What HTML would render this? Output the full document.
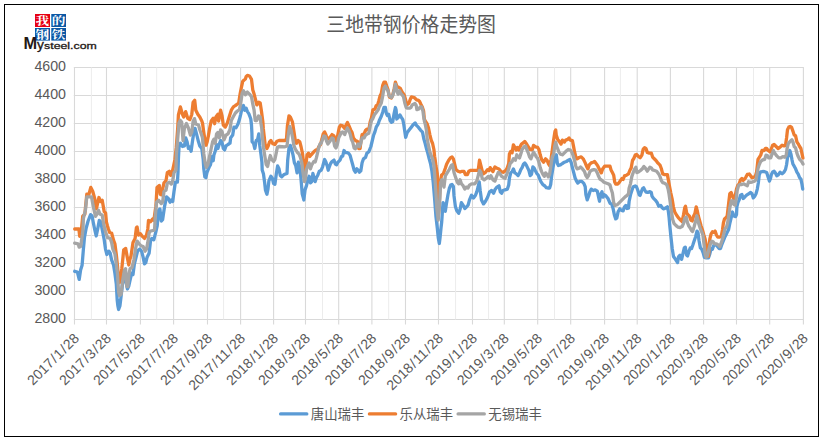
<!DOCTYPE html>
<html><head><meta charset="utf-8"><title>chart</title>
<style>html,body{margin:0;padding:0;background:#fff}body{width:823px;height:440px;overflow:hidden}
svg{display:block;font-family:"Liberation Sans",sans-serif}</style></head>
<body><svg width="823" height="440" viewBox="0 0 823 440">
<rect x="0" y="0" width="823" height="440" fill="#fff"/>
<line x1="73.8" y1="67.5" x2="803.9" y2="67.5" stroke="#d9d9d9" stroke-width="1"/>
<line x1="73.8" y1="95.5" x2="803.9" y2="95.5" stroke="#d9d9d9" stroke-width="1"/>
<line x1="73.8" y1="123.5" x2="803.9" y2="123.5" stroke="#d9d9d9" stroke-width="1"/>
<line x1="73.8" y1="151.5" x2="803.9" y2="151.5" stroke="#d9d9d9" stroke-width="1"/>
<line x1="73.8" y1="179.5" x2="803.9" y2="179.5" stroke="#d9d9d9" stroke-width="1"/>
<line x1="73.8" y1="207.5" x2="803.9" y2="207.5" stroke="#d9d9d9" stroke-width="1"/>
<line x1="73.8" y1="235.5" x2="803.9" y2="235.5" stroke="#d9d9d9" stroke-width="1"/>
<line x1="73.8" y1="263.5" x2="803.9" y2="263.5" stroke="#d9d9d9" stroke-width="1"/>
<line x1="73.8" y1="291.5" x2="803.9" y2="291.5" stroke="#d9d9d9" stroke-width="1"/>
<line x1="73.8" y1="319.5" x2="803.9" y2="319.5" stroke="#d9d9d9" stroke-width="1"/>
<line x1="91.4" y1="67.5" x2="91.4" y2="319.5" stroke="#ececec" stroke-width="1"/>
<line x1="156.7" y1="67.5" x2="156.7" y2="319.5" stroke="#ececec" stroke-width="1"/>
<line x1="223.6" y1="67.5" x2="223.6" y2="319.5" stroke="#ececec" stroke-width="1"/>
<line x1="322.5" y1="67.5" x2="322.5" y2="319.5" stroke="#ececec" stroke-width="1"/>
<line x1="388.7" y1="67.5" x2="388.7" y2="319.5" stroke="#ececec" stroke-width="1"/>
<line x1="455.6" y1="67.5" x2="455.6" y2="319.5" stroke="#ececec" stroke-width="1"/>
<line x1="488.6" y1="67.5" x2="488.6" y2="319.5" stroke="#ececec" stroke-width="1"/>
<line x1="554.5" y1="67.5" x2="554.5" y2="319.5" stroke="#ececec" stroke-width="1"/>
<line x1="620.4" y1="67.5" x2="620.4" y2="319.5" stroke="#ececec" stroke-width="1"/>
<line x1="753.5" y1="67.5" x2="753.5" y2="319.5" stroke="#ececec" stroke-width="1"/>
<line x1="74.5" y1="67.5" x2="74.5" y2="324.5" stroke="#d9d9d9" stroke-width="1.1"/>
<line x1="106.5" y1="67.5" x2="106.5" y2="324.5" stroke="#d9d9d9" stroke-width="1.1"/>
<line x1="140.4" y1="67.5" x2="140.4" y2="324.5" stroke="#d9d9d9" stroke-width="1.1"/>
<line x1="173.6" y1="67.5" x2="173.6" y2="324.5" stroke="#d9d9d9" stroke-width="1.1"/>
<line x1="207.5" y1="67.5" x2="207.5" y2="324.5" stroke="#d9d9d9" stroke-width="1.1"/>
<line x1="240.6" y1="67.5" x2="240.6" y2="324.5" stroke="#d9d9d9" stroke-width="1.1"/>
<line x1="273.6" y1="67.5" x2="273.6" y2="324.5" stroke="#d9d9d9" stroke-width="1.1"/>
<line x1="305.5" y1="67.5" x2="305.5" y2="324.5" stroke="#d9d9d9" stroke-width="1.1"/>
<line x1="338.7" y1="67.5" x2="338.7" y2="324.5" stroke="#d9d9d9" stroke-width="1.1"/>
<line x1="371.9" y1="67.5" x2="371.9" y2="324.5" stroke="#d9d9d9" stroke-width="1.1"/>
<line x1="405.5" y1="67.5" x2="405.5" y2="324.5" stroke="#d9d9d9" stroke-width="1.1"/>
<line x1="438.5" y1="67.5" x2="438.5" y2="324.5" stroke="#d9d9d9" stroke-width="1.1"/>
<line x1="472.5" y1="67.5" x2="472.5" y2="324.5" stroke="#d9d9d9" stroke-width="1.1"/>
<line x1="504.3" y1="67.5" x2="504.3" y2="324.5" stroke="#d9d9d9" stroke-width="1.1"/>
<line x1="537.7" y1="67.5" x2="537.7" y2="324.5" stroke="#d9d9d9" stroke-width="1.1"/>
<line x1="570.7" y1="67.5" x2="570.7" y2="324.5" stroke="#d9d9d9" stroke-width="1.1"/>
<line x1="604.6" y1="67.5" x2="604.6" y2="324.5" stroke="#d9d9d9" stroke-width="1.1"/>
<line x1="637.2" y1="67.5" x2="637.2" y2="324.5" stroke="#d9d9d9" stroke-width="1.1"/>
<line x1="670.4" y1="67.5" x2="670.4" y2="324.5" stroke="#d9d9d9" stroke-width="1.1"/>
<line x1="703.6" y1="67.5" x2="703.6" y2="324.5" stroke="#d9d9d9" stroke-width="1.1"/>
<line x1="736.5" y1="67.5" x2="736.5" y2="324.5" stroke="#d9d9d9" stroke-width="1.1"/>
<line x1="769.7" y1="67.5" x2="769.7" y2="324.5" stroke="#d9d9d9" stroke-width="1.1"/>
<line x1="803.4" y1="67.5" x2="803.4" y2="324.5" stroke="#d9d9d9" stroke-width="1.1"/>
<polyline points="74.7,271.3 77.4,272.0 79.2,279.4 80.6,270.0 82.1,265.2 83.4,249.1 84.5,237.1 86.2,228.0 88.1,221.0 90.6,214.6 92.1,216.0 93.5,223.7 94.8,230.0 96.2,236.0 97.5,230.0 99.3,220.4 100.9,222.0 101.9,228.0 102.9,233.0 104.2,239.8 105.5,249.1 106.9,254.5 108.9,251.2 110.2,253.2 111.6,259.9 113.6,265.2 114.9,273.3 116.3,284.0 117.2,300.0 117.9,306.0 118.6,309.5 119.9,306.0 121.0,297.0 122.5,284.0 124.5,275.0 126.0,282.0 127.4,289.0 128.8,286.0 130.4,278.7 131.7,273.3 133.0,274.6 134.4,263.9 136.4,255.9 137.7,250.5 139.8,249.1 141.8,251.8 143.1,257.2 144.5,263.9 145.8,262.6 147.1,257.2 149.1,253.2 150.5,241.1 151.8,238.4 153.8,239.8 155.9,231.7 157.2,226.0 158.6,210.3 159.9,208.9 161.3,221.0 162.6,219.7 164.6,206.2 166.6,196.8 168.7,198.9 170.0,202.2 171.3,200.2 172.7,201.5 174.0,191.5 175.4,182.1 177.4,182.1 178.0,172.7 178.4,159.3 179.0,147.2 180.4,143.2 182.4,146.5 184.4,145.9 185.7,137.8 187.1,141.8 188.4,148.5 189.8,147.0 191.1,151.2 192.4,141.8 193.8,132.4 195.1,128.4 196.5,133.8 198.5,141.8 199.8,145.9 201.8,148.5 203.2,159.3 203.8,168.8 204.8,176.8 205.9,177.5 206.9,172.8 207.9,170.1 209.2,167.0 210.5,164.6 211.9,156.7 213.2,160.7 213.9,155.0 215.2,151.2 216.6,144.5 217.9,148.5 219.3,144.0 220.6,140.5 222.0,142.0 223.3,148.5 224.6,149.9 226.0,145.9 228.0,144.5 230.0,143.2 230.7,137.8 232.7,135.1 234.0,127.1 236.0,127.7 238.0,124.0 239.4,119.6 240.7,114.3 242.1,107.6 243.4,105.5 244.8,110.2 246.1,108.2 247.4,111.6 248.8,113.6 250.1,117.0 250.8,119.0 251.5,125.0 251.9,133.0 252.1,141.8 253.5,143.2 254.8,148.5 256.2,140.5 257.5,139.8 258.8,133.8 259.8,145.9 260.9,153.9 261.9,162.1 262.2,170.1 263.5,174.1 264.6,182.2 265.5,190.2 266.9,194.3 268.0,188.9 268.9,180.9 270.9,176.2 272.3,178.2 273.6,183.5 274.9,184.2 276.3,174.1 277.6,166.0 279.0,168.8 280.3,175.5 281.7,176.8 283.7,174.8 285.0,174.1 287.0,173.5 287.7,160.1 289.0,148.0 290.4,145.4 291.7,149.4 293.0,154.8 294.4,162.8 295.7,165.5 297.1,172.9 298.4,162.1 299.8,166.8 301.1,180.2 302.2,193.7 303.1,197.0 303.8,200.0 305.1,189.6 306.5,185.6 307.8,180.2 309.1,176.2 310.5,182.9 311.8,181.6 312.9,173.5 314.0,178.0 315.2,181.6 316.5,177.6 317.9,174.9 319.2,171.5 321.2,170.2 322.6,166.8 324.6,159.5 325.9,162.1 327.3,166.2 328.2,170.2 329.3,166.8 330.6,163.5 332.0,161.5 334.0,160.1 335.3,164.1 336.6,164.8 338.0,162.1 340.0,160.1 341.3,156.8 342.7,156.1 344.0,150.5 345.4,152.5 347.4,152.7 348.7,153.4 350.1,155.4 351.4,160.1 352.7,164.8 354.1,170.2 355.4,172.2 356.8,168.8 358.1,170.2 359.5,172.2 360.8,170.9 362.1,162.8 363.5,158.8 365.5,157.4 366.8,153.4 368.8,151.8 370.9,146.5 372.2,141.0 373.5,135.5 374.9,131.9 376.2,127.2 378.2,123.8 379.3,120.5 380.0,119.0 381.3,116.3 382.7,112.2 384.0,107.5 385.4,107.5 386.4,113.6 387.4,115.6 388.7,114.3 390.1,120.3 391.4,122.3 392.7,121.6 394.1,113.6 395.4,107.5 396.1,110.0 396.8,119.0 398.1,117.6 399.9,114.9 401.5,117.6 402.8,119.6 403.7,124.0 405.1,133.4 405.7,137.4 407.1,132.7 409.1,130.1 411.1,127.4 413.1,124.7 415.1,122.9 416.5,125.4 418.5,127.4 420.5,130.1 422.5,132.1 423.8,138.8 425.2,143.5 426.5,148.8 427.9,153.5 429.2,158.9 430.5,163.5 431.9,171.0 433.2,182.0 434.6,198.5 435.9,216.0 437.3,228.0 438.3,238.0 439.3,243.5 440.0,238.0 441.0,228.0 441.7,222.0 442.2,214.6 443.0,202.6 444.4,205.2 445.3,211.3 446.6,202.6 448.0,194.5 449.3,188.5 450.7,185.1 452.0,184.5 453.4,186.5 454.0,195.9 455.4,206.6 456.7,210.6 458.7,213.3 460.1,209.3 461.4,202.6 462.7,204.6 464.8,208.6 466.1,207.3 468.1,205.2 469.5,199.9 471.5,195.2 473.5,197.9 475.5,195.2 476.8,191.8 478.2,186.5 479.2,181.8 480.2,190.5 481.5,199.9 483.5,203.9 485.5,201.2 487.6,197.2 489.6,191.8 491.6,190.5 493.6,193.2 494.9,189.8 497.0,187.1 499.0,185.8 500.3,191.8 501.6,193.2 503.0,190.5 505.0,189.8 507.4,189.1 508.7,185.1 509.4,178.3 510.7,172.9 512.1,171.6 513.4,168.9 514.8,172.9 516.1,173.6 518.1,175.6 519.5,172.9 520.8,169.6 522.1,167.6 523.5,164.2 524.8,162.9 526.2,164.9 527.5,167.6 528.8,170.2 530.2,175.6 531.5,174.3 532.9,166.9 534.2,168.2 535.5,170.9 536.9,173.6 538.2,175.0 539.6,178.7 540.9,181.7 542.9,184.7 544.9,186.0 546.3,187.7 548.3,188.0 549.6,188.0 550.7,184.5 551.6,176.3 553.0,167.5 554.3,160.2 555.3,156.2 556.3,154.8 557.4,163.5 558.4,165.5 560.4,164.9 562.4,163.5 564.4,162.2 566.4,161.5 568.4,160.2 569.8,159.5 571.1,162.2 572.4,167.6 573.8,172.9 575.1,178.0 576.5,181.0 577.8,183.0 579.8,181.4 581.8,181.4 583.8,183.4 585.2,186.7 585.9,194.5 587.2,199.9 588.5,196.5 589.9,191.8 591.2,189.1 593.2,190.5 595.2,189.8 597.3,191.2 598.6,197.2 599.5,201.2 600.6,194.5 602.0,191.8 603.0,197.2 604.0,194.5 606.0,195.9 608.0,198.5 610.0,203.2 611.7,204.1 613.0,208.2 614.4,214.9 615.7,218.9 616.8,218.2 618.1,211.8 619.8,208.8 621.1,210.2 623.1,210.9 624.5,206.8 625.8,205.5 627.1,208.5 628.5,208.2 629.1,201.5 630.5,194.8 631.8,190.7 633.2,186.7 635.2,186.0 636.5,186.7 637.9,190.5 639.2,194.8 640.1,195.4 641.2,192.1 642.6,188.5 643.6,187.8 644.6,189.7 645.9,192.0 647.9,192.3 649.9,191.7 651.3,192.5 652.0,196.1 653.3,198.1 655.3,200.1 657.3,202.8 658.7,206.2 660.7,205.5 662.0,207.5 663.4,208.8 665.4,208.2 667.4,206.8 668.3,210.9 669.1,217.6 669.8,225.7 670.9,236.5 672.2,248.5 673.5,256.6 675.5,259.3 677.6,262.6 678.6,256.6 680.0,255.2 681.6,259.3 682.9,253.9 684.3,247.9 685.3,247.2 686.7,255.2 687.6,255.9 689.0,251.2 690.3,247.9 691.6,248.5 693.0,244.5 694.3,240.5 695.7,236.5 697.0,231.1 698.0,232.4 699.0,240.5 700.4,247.9 701.7,249.2 703.1,252.6 704.4,257.3 706.4,257.9 708.4,257.9 709.8,253.9 711.1,248.5 712.4,249.2 713.8,245.2 715.4,244.5 717.1,245.9 719.1,248.5 720.5,248.5 721.8,244.5 723.2,241.2 724.5,237.8 725.9,235.1 727.2,232.4 728.5,229.8 729.9,223.0 731.2,217.7 732.5,212.0 733.8,216.0 735.6,216.6 736.5,214.6 736.9,206.6 737.9,202.6 739.2,199.9 740.5,195.2 741.9,194.5 743.2,198.5 744.6,197.2 746.6,195.2 748.6,193.8 750.6,192.5 752.0,193.8 753.3,197.9 754.6,196.5 756.0,193.8 757.3,189.1 758.4,182.4 759.3,174.4 760.7,171.9 762.7,171.5 764.7,171.7 766.7,172.5 768.1,177.1 769.4,181.1 770.5,178.4 771.4,174.4 772.7,171.9 774.1,171.2 775.4,173.0 776.8,175.7 778.1,175.1 780.1,172.2 782.1,173.7 784.1,171.9 785.5,169.5 786.6,164.5 787.5,157.9 788.8,153.2 789.8,150.5 790.9,153.9 791.9,159.3 792.9,164.0 794.2,166.2 795.6,168.8 796.9,172.2 798.2,174.2 799.6,177.7 800.9,179.1 801.9,183.8 802.7,189.1" fill="none" stroke="#5b9bd5" stroke-width="3.3" stroke-linejoin="round" stroke-linecap="round"/>
<polyline points="74.7,229.0 78.9,229.0 79.7,236.4 80.9,236.4 81.5,229.0 82.7,216.3 84.8,214.3 86.8,194.2 88.8,194.8 90.8,187.4 92.8,191.5 94.8,198.9 96.4,208.9 98.9,197.5 100.6,201.5 102.2,200.2 104.2,211.6 105.6,213.0 106.4,222.0 107.4,225.7 108.4,229.0 109.6,232.4 111.6,233.0 113.6,240.4 114.9,243.8 116.3,254.5 117.5,266.0 118.6,278.9 119.5,282.6 120.3,280.2 121.8,268.7 123.1,256.0 123.7,249.8 125.7,248.5 127.0,255.9 128.8,265.0 130.0,259.0 131.0,255.9 133.0,242.4 135.1,238.4 136.4,227.7 137.1,227.0 138.4,235.1 140.4,233.7 142.4,236.4 144.5,238.4 146.5,235.0 147.8,229.0 148.5,220.3 150.5,221.7 152.6,219.0 153.9,220.3 155.3,210.0 155.9,206.2 157.0,187.4 159.3,185.4 160.2,194.2 161.3,194.8 164.0,182.8 166.0,180.7 167.3,172.7 169.3,171.3 170.7,175.4 172.7,170.0 175.0,159.3 176.3,147.2 177.7,128.4 178.4,115.0 180.4,106.9 182.4,114.3 183.7,117.0 185.7,111.6 187.7,118.3 189.8,119.6 191.8,114.3 193.1,102.2 194.7,100.2 195.8,110.2 197.8,114.3 199.8,117.0 201.8,121.0 202.5,123.0 203.8,132.4 205.2,141.8 206.1,145.2 207.2,141.8 208.5,135.1 209.9,127.1 211.2,121.0 213.2,118.3 214.6,123.7 215.9,117.0 217.9,114.3 218.6,121.0 220.6,110.2 222.0,115.6 223.3,125.0 225.3,127.0 227.3,123.0 229.3,116.5 231.3,110.2 233.4,106.9 235.4,105.5 237.4,104.2 238.7,102.9 240.1,94.1 241.4,87.4 242.7,81.4 244.1,80.0 245.4,79.0 246.1,76.7 247.4,75.4 249.5,76.0 251.5,79.4 252.8,90.1 254.1,94.1 255.5,99.5 256.8,104.9 258.8,102.2 260.2,102.9 261.5,111.6 262.9,122.3 263.3,128.4 264.2,136.5 265.1,144.5 266.9,148.5 268.2,145.9 269.6,141.8 270.9,140.5 272.9,143.8 274.9,144.5 277.0,141.2 279.0,140.5 285.0,140.5 286.5,139.0 287.4,125.9 289.0,115.8 290.4,117.1 292.4,121.8 293.7,129.9 295.1,139.3 296.4,143.3 298.1,140.5 299.8,141.8 301.1,147.0 302.4,153.0 303.8,164.1 304.9,172.2 305.8,165.5 307.1,154.8 308.5,153.2 309.8,156.5 311.2,154.8 313.8,151.8 315.9,150.0 317.2,150.5 318.5,147.3 320.5,144.5 321.9,139.3 323.2,133.9 324.6,131.9 325.9,134.6 327.3,139.3 329.3,138.0 330.6,136.6 332.0,134.6 334.0,135.9 335.3,140.6 336.6,141.3 338.0,133.9 339.3,127.2 340.7,125.2 342.7,125.9 344.7,128.5 346.0,125.2 347.4,122.5 348.7,125.2 350.7,129.9 352.1,132.6 353.4,137.9 355.4,140.6 357.4,141.3 358.8,148.7 360.1,148.7 360.8,142.0 362.1,134.6 364.1,133.9 365.5,130.5 366.8,129.2 368.8,129.9 370.2,121.8 371.5,117.8 372.9,109.8 374.9,109.1 376.2,105.7 377.6,105.0 378.9,100.4 380.0,96.1 381.3,93.5 382.7,85.4 384.0,82.1 385.4,82.1 386.7,86.0 388.0,89.5 389.4,97.0 391.4,98.0 392.7,95.0 394.1,89.0 395.4,82.1 396.8,86.0 398.8,87.4 400.1,88.1 402.1,92.1 404.1,94.8 405.4,99.0 406.8,104.9 408.8,103.5 410.2,99.5 411.5,96.8 414.2,97.5 416.9,100.2 418.3,100.2 419.6,101.5 420.9,104.2 422.3,106.9 423.6,110.9 424.3,119.0 425.2,121.0 427.2,124.0 428.5,128.0 429.9,134.8 431.2,140.1 432.6,143.5 433.9,149.5 434.6,156.2 435.2,160.0 435.9,165.6 437.3,173.7 437.7,190.0 438.0,205.0 438.4,214.0 439.2,205.0 439.8,191.8 440.5,180.5 441.6,175.0 443.3,173.7 445.3,168.3 446.6,164.3 448.7,160.2 450.7,157.6 452.0,156.9 453.4,158.9 454.7,164.3 456.0,169.6 458.0,171.3 460.1,172.0 462.1,171.3 464.0,171.3 465.4,174.5 467.4,174.5 468.8,171.3 470.8,170.3 478.2,170.3 478.8,165.6 479.5,160.2 480.9,165.6 482.2,171.0 483.5,173.7 485.5,172.3 487.6,169.6 489.0,170.5 490.2,167.6 491.6,169.6 492.9,171.6 494.9,167.0 497.0,168.3 499.0,169.0 501.0,171.6 503.0,172.3 505.0,171.0 506.0,170.2 507.4,167.6 508.7,163.5 509.4,154.1 510.7,151.5 512.1,152.8 513.4,144.8 514.8,147.4 516.1,150.1 517.4,147.4 518.8,150.1 520.1,146.8 521.5,144.1 523.5,142.7 524.8,141.4 526.2,143.4 528.2,146.8 530.2,149.5 532.2,150.0 533.5,145.4 535.5,146.8 537.6,147.4 538.9,149.5 540.2,154.8 541.6,159.5 543.6,162.2 545.6,158.8 547.0,160.2 548.3,163.5 549.6,165.5 551.0,159.5 552.3,150.1 553.7,139.4 555.0,131.3 555.7,130.0 556.3,135.4 557.7,139.4 559.7,142.1 561.0,144.1 562.4,140.1 564.4,142.1 565.7,140.1 567.7,139.4 569.1,138.0 570.4,140.1 572.4,140.7 573.5,146.1 574.5,151.5 575.8,156.8 577.1,158.8 579.1,157.5 581.2,156.8 583.2,158.8 585.2,162.9 586.5,166.2 587.9,168.9 589.2,164.9 591.2,162.9 593.2,162.2 594.6,161.5 596.6,164.2 597.9,166.2 599.9,170.2 601.3,172.9 602.6,168.9 604.6,166.2 607.3,166.2 610.0,166.2 611.0,169.9 612.4,172.6 613.7,175.2 614.7,182.0 615.7,184.0 617.7,184.0 619.1,182.6 620.4,180.6 621.8,178.6 623.1,179.5 624.5,175.9 626.5,175.2 628.5,173.9 629.8,170.5 631.2,167.9 632.5,160.5 633.8,158.5 635.2,155.1 636.5,154.5 638.5,156.5 640.1,157.8 641.9,155.1 643.2,149.1 644.6,147.7 645.9,148.4 647.3,152.4 649.3,153.1 651.3,153.1 652.6,157.1 654.0,158.5 656.0,160.5 658.0,163.2 660.0,165.2 661.3,168.5 662.7,173.9 664.7,174.6 667.4,174.6 668.3,179.6 669.4,185.7 670.7,192.6 672.1,198.8 673.4,206.8 674.8,212.2 676.8,215.5 678.8,218.2 680.8,220.4 682.1,221.6 683.5,214.9 684.8,207.5 685.5,206.2 686.8,213.5 688.2,215.0 689.5,216.2 690.9,220.2 692.2,220.9 693.5,216.2 694.9,213.5 696.2,206.8 697.3,210.9 698.2,215.5 699.7,221.0 701.0,225.7 702.4,229.7 703.7,234.4 705.1,239.0 706.4,245.9 707.7,253.9 708.5,256.3 709.1,248.5 709.8,239.1 711.1,233.8 712.4,231.8 713.8,232.4 715.1,231.1 716.5,235.1 717.8,237.1 719.8,237.1 721.2,236.5 722.5,229.8 723.4,223.0 724.5,219.0 725.9,217.7 727.2,216.0 727.8,210.6 728.9,201.2 729.8,193.8 731.2,192.5 732.5,196.5 733.8,199.0 735.2,195.9 736.5,189.1 737.9,185.1 739.2,183.8 740.5,179.8 741.9,178.4 743.2,180.4 744.6,179.1 745.9,177.1 747.3,174.4 749.3,174.0 750.6,175.7 752.0,177.7 754.0,177.1 755.3,176.4 756.6,172.0 757.3,166.0 758.0,159.3 759.3,157.3 760.7,155.2 762.0,150.5 764.0,150.5 765.4,148.5 766.7,148.5 768.1,150.5 770.1,151.9 771.4,148.5 772.7,145.2 774.1,144.5 776.1,146.5 778.1,148.5 780.1,147.2 782.1,145.2 784.1,145.9 785.5,145.2 786.6,137.8 787.5,129.8 788.8,127.1 790.2,126.4 791.5,127.1 792.9,131.1 794.2,135.1 795.6,135.8 796.9,141.8 798.2,143.8 799.6,146.5 800.9,148.5 802.3,155.2 802.9,158.0" fill="none" stroke="#ed7d31" stroke-width="3.3" stroke-linejoin="round" stroke-linecap="round"/>
<polyline points="74.7,243.1 78.1,243.8 79.1,247.1 80.7,246.5 82.3,235.0 83.0,229.0 83.4,218.3 85.4,210.3 86.8,196.8 91.5,196.8 93.5,207.6 95.5,216.3 96.8,214.3 98.5,210.3 100.2,214.3 102.2,215.0 103.6,223.7 104.8,229.0 105.5,231.7 107.6,237.7 110.2,238.4 111.6,242.4 112.9,249.1 114.9,253.8 116.3,263.9 117.5,274.0 118.6,292.0 119.5,295.5 121.2,294.2 122.5,281.5 124.4,270.0 125.6,268.7 126.3,281.5 126.9,286.5 127.9,286.5 128.8,275.1 130.1,268.7 132.0,267.5 133.9,259.8 135.7,247.8 137.1,241.1 139.1,243.8 141.1,245.8 143.1,246.5 145.1,251.2 146.5,249.1 147.8,242.4 149.1,233.0 150.5,231.0 153.8,230.4 154.6,229.0 155.2,217.0 156.6,202.2 158.6,200.2 161.3,203.6 162.6,202.2 164.0,191.5 166.0,190.1 167.3,183.4 169.3,182.1 171.3,184.1 172.7,180.7 174.0,172.7 176.0,170.0 176.3,155.2 177.7,139.1 179.0,123.0 180.2,120.3 181.7,122.0 183.0,140.5 184.4,128.4 186.4,123.5 188.4,128.0 190.4,135.1 191.8,132.0 193.1,121.4 194.5,118.6 195.8,124.0 198.5,125.0 199.8,129.8 201.2,133.8 202.5,137.8 203.8,153.9 205.2,163.3 206.3,167.3 207.9,164.6 209.2,158.0 211.2,148.5 212.6,141.8 213.9,139.1 215.2,143.2 216.6,133.8 217.9,132.4 219.3,137.8 220.6,129.8 222.0,131.5 224.0,139.8 226.0,135.1 228.0,133.8 230.0,129.5 231.3,120.5 233.4,116.5 235.4,113.0 237.4,111.0 239.4,109.6 240.7,103.5 242.1,93.5 243.4,90.8 245.4,94.8 247.4,92.1 249.5,94.1 251.5,96.8 252.8,104.2 254.1,110.2 255.2,120.5 256.8,120.5 258.5,116.0 260.2,117.0 260.9,123.0 261.7,128.0 262.2,135.1 263.5,147.2 264.9,156.6 266.2,164.6 267.6,166.4 268.9,160.6 270.3,155.5 271.6,159.3 273.6,161.5 274.9,159.3 276.3,152.6 277.4,147.2 279.0,146.5 285.0,146.8 287.0,146.0 288.4,133.9 289.7,126.5 291.0,129.9 292.4,136.6 293.7,144.6 295.1,148.7 297.1,152.0 299.1,154.1 300.4,157.4 301.8,162.8 303.1,173.5 304.5,181.6 305.4,178.9 306.5,169.5 307.8,165.5 309.1,163.0 310.5,168.8 311.8,164.8 313.8,161.5 315.2,162.0 316.5,157.4 317.9,151.4 318.5,148.7 319.9,144.0 321.2,143.3 322.6,139.3 323.9,135.9 325.3,136.6 326.6,141.3 327.9,144.0 329.9,141.3 332.0,137.9 333.3,138.6 334.6,146.0 336.0,148.0 337.3,144.6 338.7,137.9 340.0,135.2 341.3,132.6 342.7,131.9 344.7,134.6 346.0,131.2 347.4,127.9 348.7,130.5 350.1,133.9 351.4,139.3 352.7,142.0 354.1,148.0 355.4,148.7 356.8,146.0 358.1,144.0 359.5,146.6 360.8,143.3 362.1,137.9 364.1,137.9 365.5,135.2 367.5,133.9 368.8,133.2 370.2,125.9 371.5,120.5 372.9,118.5 374.2,115.1 376.2,112.4 378.2,109.8 379.3,106.5 380.0,105.5 381.3,102.9 382.7,96.1 384.0,88.1 385.4,86.1 386.7,88.8 388.0,90.8 389.4,96.1 391.4,97.5 392.7,95.5 394.1,90.8 395.4,84.1 396.8,90.8 398.1,94.1 399.5,90.8 400.8,93.5 402.1,94.8 403.5,96.8 404.8,102.9 406.2,107.5 407.5,108.2 409.5,108.2 410.9,107.5 412.2,104.9 413.5,104.2 414.9,103.5 416.2,105.5 416.9,109.6 418.9,108.9 420.2,106.9 421.6,106.9 422.9,110.9 423.6,116.3 424.5,121.6 425.2,124.0 426.5,130.7 427.2,138.8 428.5,145.5 429.9,152.2 431.2,155.5 432.6,158.9 433.9,165.6 434.6,173.0 435.9,191.8 436.9,209.3 438.2,220.0 439.2,209.0 439.9,198.5 440.6,182.4 441.9,179.8 443.0,184.0 444.0,187.1 445.3,176.0 447.3,172.7 449.3,169.5 451.3,165.5 452.5,164.8 454.0,172.5 455.4,176.7 457.4,182.4 458.7,183.8 460.1,179.8 461.4,183.8 462.7,185.1 464.8,189.1 466.1,187.1 468.0,188.0 469.5,185.1 471.5,183.8 474.8,183.8 476.8,181.1 478.2,175.7 479.5,170.4 480.9,172.5 482.2,178.4 484.2,179.8 486.2,178.4 488.2,176.4 489.6,178.4 490.9,175.7 492.9,179.8 494.9,181.1 496.3,177.1 498.3,172.4 499.6,173.0 501.6,176.4 503.7,177.7 505.0,178.4 507.4,172.9 508.7,168.9 510.1,163.5 512.1,161.5 513.4,158.8 515.4,160.2 516.8,154.8 518.1,156.8 519.5,158.0 520.8,154.1 522.1,149.5 524.1,146.8 525.5,146.1 526.8,149.5 528.2,152.8 529.5,156.8 530.9,158.8 532.2,155.5 533.5,152.1 534.9,154.1 536.2,156.8 537.6,158.2 538.9,162.2 540.2,167.6 541.6,171.6 542.9,174.3 544.3,176.3 545.6,172.9 547.0,174.3 548.3,176.9 549.6,174.3 551.0,164.9 552.3,156.8 553.7,154.1 554.7,146.1 555.7,142.1 556.6,146.1 557.7,148.8 559.0,152.1 560.4,154.1 562.4,154.8 564.4,152.8 566.4,150.8 568.4,149.5 570.4,150.1 571.8,152.1 573.1,155.5 574.5,160.2 575.8,166.2 577.1,168.9 579.1,168.2 580.5,166.9 582.5,168.9 584.5,171.6 585.9,175.6 587.2,177.6 588.5,175.6 589.9,171.6 591.9,170.2 593.9,169.6 595.9,170.2 597.3,172.9 598.6,176.3 599.9,179.0 602.0,180.3 604.0,182.3 606.0,183.0 608.0,183.7 610.0,185.0 611.0,188.7 612.4,193.0 613.7,202.8 615.1,205.5 617.1,204.8 619.1,202.8 621.1,200.8 623.1,198.8 625.1,196.8 627.1,195.4 628.5,193.7 629.1,188.3 630.5,183.6 631.8,176.6 633.2,172.6 634.5,169.2 635.9,167.2 636.9,172.6 638.5,171.9 640.5,170.5 642.6,168.5 643.9,166.5 645.2,167.9 647.3,171.2 648.6,169.2 649.9,167.2 651.3,167.9 652.6,169.9 654.6,170.5 656.6,171.2 658.7,173.9 660.0,176.6 661.3,180.5 662.7,182.6 664.7,183.3 666.7,184.6 668.1,189.0 669.1,194.4 670.1,201.5 671.4,210.9 672.7,219.5 674.1,223.6 676.1,225.6 678.1,227.2 680.1,227.6 682.1,226.6 683.5,223.5 684.8,218.5 686.2,217.0 687.5,222.9 688.8,226.0 690.2,228.0 691.5,230.5 692.6,231.5 694.2,226.5 695.6,221.0 696.8,215.8 697.6,218.9 698.9,224.3 700.2,228.3 701.6,231.6 702.9,235.0 703.7,241.8 704.4,247.2 705.1,253.9 706.0,257.3 707.1,256.6 708.1,252.6 709.1,248.5 710.4,243.8 711.8,241.2 713.1,241.8 714.5,243.8 716.5,243.8 718.5,245.2 719.8,246.5 721.2,243.2 722.5,239.1 723.8,233.8 725.2,228.4 726.5,227.1 727.6,223.0 728.5,217.3 729.8,207.9 731.2,201.2 732.5,200.6 733.8,204.6 735.2,205.2 736.1,199.9 737.2,190.5 738.5,185.8 739.9,184.5 741.9,184.5 743.9,183.8 745.9,185.1 747.3,185.8 748.6,181.8 750.6,182.4 752.6,181.8 754.6,181.1 756.0,179.8 757.0,174.2 758.0,168.5 759.3,164.5 760.7,161.3 762.7,159.9 764.7,159.3 766.0,155.2 767.4,155.5 768.7,157.9 770.7,157.9 772.1,153.9 773.4,150.5 774.8,153.2 776.8,155.9 778.8,157.9 780.8,157.9 782.8,156.6 784.8,157.3 786.2,155.2 787.1,148.5 788.2,143.8 790.2,141.2 791.9,139.8 792.9,141.8 794.2,146.5 795.6,147.9 796.9,153.2 798.2,156.6 799.6,159.3 800.9,160.6 802.3,162.6 803.0,164.0" fill="none" stroke="#a5a5a5" stroke-width="3.3" stroke-linejoin="round" stroke-linecap="round"/>
<text transform="translate(66.0 70.90) scale(1.015 1)" text-anchor="end" font-size="14" fill="#595959">4600</text>
<text transform="translate(66.0 98.90) scale(1.015 1)" text-anchor="end" font-size="14" fill="#595959">4400</text>
<text transform="translate(66.0 126.90) scale(1.015 1)" text-anchor="end" font-size="14" fill="#595959">4200</text>
<text transform="translate(66.0 154.90) scale(1.015 1)" text-anchor="end" font-size="14" fill="#595959">4000</text>
<text transform="translate(66.0 182.90) scale(1.015 1)" text-anchor="end" font-size="14" fill="#595959">3800</text>
<text transform="translate(66.0 210.90) scale(1.015 1)" text-anchor="end" font-size="14" fill="#595959">3600</text>
<text transform="translate(66.0 238.90) scale(1.015 1)" text-anchor="end" font-size="14" fill="#595959">3400</text>
<text transform="translate(66.0 266.90) scale(1.015 1)" text-anchor="end" font-size="14" fill="#595959">3200</text>
<text transform="translate(66.0 294.90) scale(1.015 1)" text-anchor="end" font-size="14" fill="#595959">3000</text>
<text transform="translate(66.0 322.90) scale(1.015 1)" text-anchor="end" font-size="14" fill="#595959">2800</text>
<text transform="translate(79.9 339.2) rotate(-45)" text-anchor="end" font-size="14" dx="0.00 0.00 0.00 0.00 1.00 1.00 1.00 1.00 0.00" fill="#595959">2017/1/28</text>
<text transform="translate(111.9 339.2) rotate(-45)" text-anchor="end" font-size="14" dx="0.00 0.00 0.00 0.00 1.00 1.00 1.00 1.00 0.00" fill="#595959">2017/3/28</text>
<text transform="translate(145.8 339.2) rotate(-45)" text-anchor="end" font-size="14" dx="0.00 0.00 0.00 0.00 1.00 1.00 1.00 1.00 0.00" fill="#595959">2017/5/28</text>
<text transform="translate(179.0 339.2) rotate(-45)" text-anchor="end" font-size="14" dx="0.00 0.00 0.00 0.00 1.00 1.00 1.00 1.00 0.00" fill="#595959">2017/7/28</text>
<text transform="translate(212.9 339.2) rotate(-45)" text-anchor="end" font-size="14" dx="0.00 0.00 0.00 0.00 1.00 1.00 1.00 1.00 0.00" fill="#595959">2017/9/28</text>
<text transform="translate(246.0 339.2) rotate(-45)" text-anchor="end" font-size="14" dx="0.00 0.00 0.00 0.00 1.00 1.00 0.00 1.00 1.00 0.00" fill="#595959">2017/11/28</text>
<text transform="translate(279.0 339.2) rotate(-45)" text-anchor="end" font-size="14" dx="0.00 0.00 0.00 0.00 1.00 1.00 1.00 1.00 0.00" fill="#595959">2018/1/28</text>
<text transform="translate(310.9 339.2) rotate(-45)" text-anchor="end" font-size="14" dx="0.00 0.00 0.00 0.00 1.00 1.00 1.00 1.00 0.00" fill="#595959">2018/3/28</text>
<text transform="translate(344.1 339.2) rotate(-45)" text-anchor="end" font-size="14" dx="0.00 0.00 0.00 0.00 1.00 1.00 1.00 1.00 0.00" fill="#595959">2018/5/28</text>
<text transform="translate(377.3 339.2) rotate(-45)" text-anchor="end" font-size="14" dx="0.00 0.00 0.00 0.00 1.00 1.00 1.00 1.00 0.00" fill="#595959">2018/7/28</text>
<text transform="translate(410.9 339.2) rotate(-45)" text-anchor="end" font-size="14" dx="0.00 0.00 0.00 0.00 1.00 1.00 1.00 1.00 0.00" fill="#595959">2018/9/28</text>
<text transform="translate(443.9 339.2) rotate(-45)" text-anchor="end" font-size="14" dx="0.00 0.00 0.00 0.00 1.00 1.00 0.00 1.00 1.00 0.00" fill="#595959">2018/11/28</text>
<text transform="translate(477.9 339.2) rotate(-45)" text-anchor="end" font-size="14" dx="0.00 0.00 0.00 0.00 1.00 1.00 1.00 1.00 0.00" fill="#595959">2019/1/28</text>
<text transform="translate(509.7 339.2) rotate(-45)" text-anchor="end" font-size="14" dx="0.00 0.00 0.00 0.00 1.00 1.00 1.00 1.00 0.00" fill="#595959">2019/3/28</text>
<text transform="translate(543.1 339.2) rotate(-45)" text-anchor="end" font-size="14" dx="0.00 0.00 0.00 0.00 1.00 1.00 1.00 1.00 0.00" fill="#595959">2019/5/28</text>
<text transform="translate(576.1 339.2) rotate(-45)" text-anchor="end" font-size="14" dx="0.00 0.00 0.00 0.00 1.00 1.00 1.00 1.00 0.00" fill="#595959">2019/7/28</text>
<text transform="translate(610.0 339.2) rotate(-45)" text-anchor="end" font-size="14" dx="0.00 0.00 0.00 0.00 1.00 1.00 1.00 1.00 0.00" fill="#595959">2019/9/28</text>
<text transform="translate(642.6 339.2) rotate(-45)" text-anchor="end" font-size="14" dx="0.00 0.00 0.00 0.00 1.00 1.00 0.00 1.00 1.00 0.00" fill="#595959">2019/11/28</text>
<text transform="translate(675.8 339.2) rotate(-45)" text-anchor="end" font-size="14" dx="0.00 0.00 0.00 0.00 1.00 1.00 1.00 1.00 0.00" fill="#595959">2020/1/28</text>
<text transform="translate(709.0 339.2) rotate(-45)" text-anchor="end" font-size="14" dx="0.00 0.00 0.00 0.00 1.00 1.00 1.00 1.00 0.00" fill="#595959">2020/3/28</text>
<text transform="translate(741.9 339.2) rotate(-45)" text-anchor="end" font-size="14" dx="0.00 0.00 0.00 0.00 1.00 1.00 1.00 1.00 0.00" fill="#595959">2020/5/28</text>
<text transform="translate(775.1 339.2) rotate(-45)" text-anchor="end" font-size="14" dx="0.00 0.00 0.00 0.00 1.00 1.00 1.00 1.00 0.00" fill="#595959">2020/7/28</text>
<text transform="translate(808.8 339.2) rotate(-45)" text-anchor="end" font-size="14" dx="0.00 0.00 0.00 0.00 1.00 1.00 1.00 1.00 0.00" fill="#595959">2020/9/28</text>
<text transform="translate(326.30 32.30) scale(1 1.081)" font-size="18.87" fill="#595959" style="font-family:'Liberation Sans','Noto Sans CJK SC',sans-serif">三地带钢价格走势图</text>
<line x1="280.6" y1="413.9" x2="306.8" y2="413.9" stroke="#5b9bd5" stroke-width="3.3" stroke-linecap="round"/>
<text x="310.80" y="418.90" font-size="13.4" fill="#595959" style="font-family:'Liberation Sans','Noto Sans CJK SC',sans-serif">唐山瑞丰</text>
<line x1="369.4" y1="413.9" x2="395.6" y2="413.9" stroke="#ed7d31" stroke-width="3.3" stroke-linecap="round"/>
<text x="399.55" y="418.90" font-size="13.4" fill="#595959" style="font-family:'Liberation Sans','Noto Sans CJK SC',sans-serif">乐从瑞丰</text>
<line x1="458.1" y1="413.9" x2="484.3" y2="413.9" stroke="#a5a5a5" stroke-width="3.3" stroke-linecap="round"/>
<text x="488.30" y="418.90" font-size="13.4" fill="#595959" style="font-family:'Liberation Sans','Noto Sans CJK SC',sans-serif">无锡瑞丰</text>
<rect x="35" y="14" width="15" height="13" fill="#e60012"/>
<rect x="51.3" y="14" width="14.7" height="13" fill="#0b57a4"/>
<rect x="35" y="28" width="15" height="12.6" fill="#0b57a4"/>
<rect x="51.3" y="28" width="14.7" height="12.6" fill="#0b57a4"/>
<text transform="translate(35.60 24.90) scale(1 0.862)" font-size="13.69" font-weight="bold" fill="#fff" style="font-family:'Liberation Serif','Noto Serif CJK SC',serif">我</text>
<text transform="translate(51.80 24.90) scale(1 0.862)" font-size="13.69" font-weight="bold" fill="#fff" style="font-family:'Liberation Serif','Noto Serif CJK SC',serif">的</text>
<text transform="translate(35.60 38.70) scale(1 0.862)" font-size="13.69" font-weight="bold" fill="#fff" style="font-family:'Liberation Serif','Noto Serif CJK SC',serif">钢</text>
<text transform="translate(51.80 38.70) scale(1 0.862)" font-size="13.69" font-weight="bold" fill="#fff" style="font-family:'Liberation Serif','Noto Serif CJK SC',serif">铁</text>
<text x="23.4" y="48.9" font-size="16" font-weight="bold" fill="#231815" textLength="13.6" lengthAdjust="spacingAndGlyphs">M</text>
<text x="37.0" y="49.3" font-size="12.5" fill="#231815" stroke="#231815" stroke-width="0.3" textLength="6.9" lengthAdjust="spacingAndGlyphs">y</text>
<text x="44.1" y="49.3" font-size="9.6" fill="#231815" stroke="#231815" stroke-width="0.3" textLength="52.7" lengthAdjust="spacingAndGlyphs">steel.com</text>
<rect x="4.5" y="4.5" width="814" height="432" fill="none" stroke="#000" stroke-width="1"/>
</svg></body></html>
